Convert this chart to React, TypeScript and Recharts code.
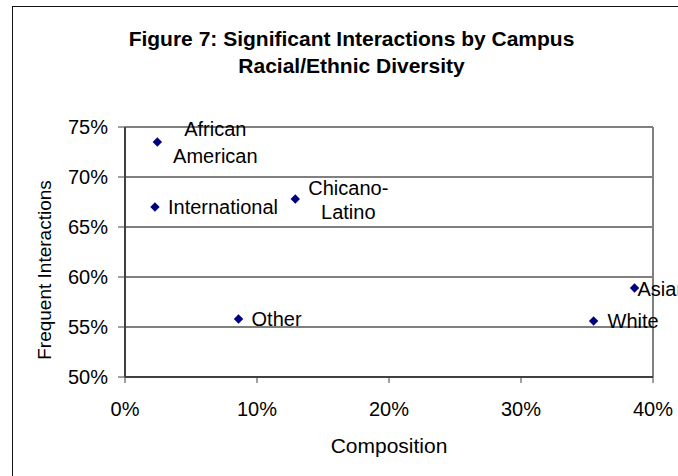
import React from "react";
import {
  ScatterChart,
  Scatter,
  XAxis,
  YAxis,
  CartesianGrid,
  ReferenceLine,
} from "recharts";

// values (percentages)
const groups = [
  "African American",
  "International",
  "Chicano-Latino",
  "Other",
  "Asian",
  "White",
];
const composition = [2.45, 2.27, 12.9, 8.6, 38.6, 35.5];
const interactions = [73.5, 67.0, 67.8, 55.8, 58.9, 55.6];

const xTicks = [0, 10, 20, 30, 40];
const yTicks = [50, 55, 60, 65, 70, 75];

const FONT = "'Liberation Sans', Arial, sans-serif";

// where each point's label sits (offsets from the marker)
const labelLayout: Record<
  string,
  { lines: string[]; anchor: "start" | "middle"; dx: number; dys: number[] }
> = {
  "African American": { lines: ["African", "American"], anchor: "middle", dx: 58, dys: [-6.4, 21] },
  International: { lines: ["International"], anchor: "start", dx: 13, dys: [7] },
  "Chicano-Latino": { lines: ["Chicano-", "Latino"], anchor: "middle", dx: 53, dys: [-4.5, 19.8] },
  Other: { lines: ["Other"], anchor: "start", dx: 13, dys: [7] },
  Asian: { lines: ["Asian"], anchor: "start", dx: 3, dys: [7.6] },
  White: { lines: ["White"], anchor: "start", dx: 14, dys: [7.4] },
};

const data = groups.map((name, i) => ({
  name,
  x: composition[i],
  y: interactions[i],
}));

const pct = (v: number) => `${v}%`;

function DiamondWithLabel(props: any) {
  const { cx, cy, payload } = props;
  if (cx == null || cy == null) return null;
  const r = 4.7;
  const layout = labelLayout[payload.name];
  return (
    <g>
      <polygon
        points={`${cx},${cy - r} ${cx + r},${cy} ${cx},${cy + r} ${cx - r},${cy}`}
        fill="#000080"
      />
      {layout &&
        layout.lines.map((line, i) => (
          <text
            key={line}
            x={cx + layout.dx}
            y={cy + layout.dys[i]}
            textAnchor={layout.anchor}
            fontFamily={FONT}
            fontSize={20}
            fill="#000"
          >
            {line}
          </text>
        ))}
    </g>
  );
}

export default function App() {
  return (
    <div
      style={{
        position: "absolute",
        left: 0,
        top: 0,
        width: 678,
        height: 476,
        overflow: "hidden",
        background: "#fff",
        fontFamily: FONT,
      }}
    >
      {/* outer chart frame, runs past the right and bottom edge */}
      <div
        style={{
          position: "absolute",
          left: 12,
          top: 6,
          width: 720,
          height: 520,
          border: "1.5px solid #111",
          boxSizing: "border-box",
        }}
      />

      <div
        style={{
          position: "absolute",
          left: 0,
          width: 703,
          top: 25,
          textAlign: "center",
          fontWeight: "bold",
          fontSize: 21,
          lineHeight: "27px",
          color: "#000",
        }}
      >
        Figure 7: Significant Interactions by Campus
        <br />
        Racial/Ethnic Diversity
      </div>

      <ScatterChart
        width={678}
        height={476}
        margin={{ top: 127, right: 25, bottom: 59, left: 65 }}
        style={{ position: "absolute", left: 0, top: 0 }}
      >
        <CartesianGrid vertical={false} stroke="#000" strokeWidth={1} />
        <XAxis
          type="number"
          dataKey="x"
          domain={[0, 40]}
          ticks={xTicks}
          tickFormatter={pct}
          height={40}
          tickSize={6}
          tickMargin={19}
          axisLine={{ stroke: "#404040", strokeWidth: 2 }}
          tickLine={{ stroke: "#404040", strokeWidth: 1 }}
          tick={{ fill: "#000", fontSize: 20, fontFamily: FONT }}
        />
        <YAxis
          type="number"
          dataKey="y"
          domain={[50, 75]}
          ticks={yTicks}
          tickFormatter={pct}
          width={60}
          tickSize={7}
          tickMargin={10}
          axisLine={{ stroke: "#404040", strokeWidth: 2 }}
          tickLine={{ stroke: "#404040", strokeWidth: 1 }}
          tick={{ fill: "#000", fontSize: 20, fontFamily: FONT }}
        />
        <ReferenceLine y={75} stroke="#808080" strokeWidth={2} />
        <ReferenceLine x={40} stroke="#808080" strokeWidth={2} />
        <Scatter
          data={data}
          isAnimationActive={false}
          shape={(p: any) => <DiamondWithLabel {...p} />}
        />
      </ScatterChart>

      <div
        style={{
          position: "absolute",
          left: 125,
          width: 528,
          top: 434,
          textAlign: "center",
          fontSize: 21,
          color: "#000",
        }}
      >
        Composition
      </div>

      <div
        style={{
          position: "absolute",
          left: 45,
          top: 270,
          transform: "translate(-50%, -50%) rotate(-90deg)",
          whiteSpace: "nowrap",
          fontSize: 19,
          color: "#000",
        }}
      >
        Frequent Interactions
      </div>
    </div>
  );
}
